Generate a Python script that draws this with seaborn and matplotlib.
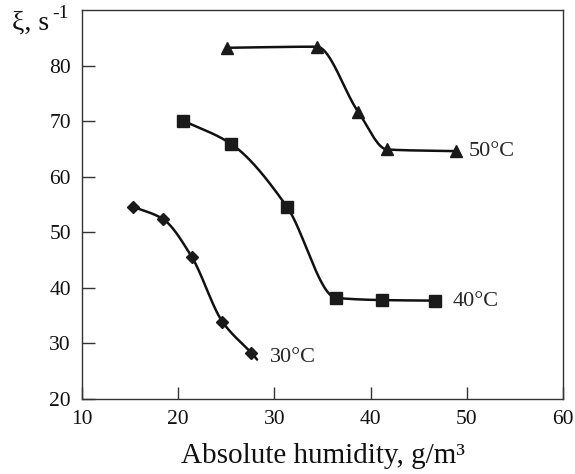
import numpy as np
import pandas as pd
import matplotlib
matplotlib.use("Agg")
import matplotlib.pyplot as plt
import seaborn as sns

# data
hum_30 = [15.3, 18.4, 21.4, 24.6, 27.6]
xi_30 = [54.6, 52.4, 45.6, 33.9, 28.3]
hum_40 = [20.5, 25.5, 31.3, 36.4, 41.2, 46.7]
xi_40 = [70.1, 65.9, 54.6, 38.2, 37.8, 37.7]
hum_50 = [25.1, 34.4, 38.7, 41.7, 48.9]
xi_50 = [83.2, 83.4, 71.7, 64.9, 64.6]
series_labels = ["30°C", "40°C", "50°C"]
curve_end = [28.2, 46.7, 48.9]
x_ticks = [10, 20, 30, 40, 50, 60]
y_ticks = [20, 30, 40, 50, 60, 70, 80]

sns.set_style("ticks")
plt.rcParams['font.family'] = ['Liberation Serif', 'DejaVu Serif']


def pchip(x, y, t):
    # monotone cubic (Fritsch-Carlson) through the measured points
    x = np.asarray(x, float)
    y = np.asarray(y, float)
    h = np.diff(x)
    d = np.diff(y) / h
    n = len(x)
    m = np.zeros(n)
    for k in range(1, n - 1):
        if d[k - 1] * d[k] > 0:
            w1 = 2 * h[k] + h[k - 1]
            w2 = h[k] + 2 * h[k - 1]
            m[k] = (w1 + w2) / (w1 / d[k - 1] + w2 / d[k])
    m[0] = d[0]
    m[-1] = d[-1]
    idx = np.clip(np.searchsorted(x, t) - 1, 0, n - 2)
    s = (t - x[idx]) / h[idx]
    h00 = 2 * s**3 - 3 * s**2 + 1
    h10 = s**3 - 2 * s**2 + s
    h01 = -2 * s**3 + 3 * s**2
    h11 = s**3 - s**2
    return (h00 * y[idx] + h10 * h[idx] * m[idx]
            + h01 * y[idx + 1] + h11 * h[idx] * m[idx + 1])


fig = plt.figure(figsize=(5.75, 4.74), dpi=100)
ax = fig.add_axes([82 / 575, 1 - 399 / 474, (563 - 82) / 575, (399 - 10) / 474])

groups = [(hum_30, xi_30, "D", 6), (hum_40, xi_40, "s", 8), (hum_50, xi_50, "^", 9)]
for (hx, hy, mk, ms), lab, xend in zip(groups, series_labels, curve_end):
    t = np.linspace(hx[0], xend, 400)
    curve = pd.DataFrame({"h": t, "xi": pchip(hx, hy, t)})
    sns.lineplot(data=curve, x="h", y="xi", ax=ax, color="#111111", lw=1.8)
    pts = pd.DataFrame({"h": hx, "xi": hy})
    ax.plot(pts["h"], pts["xi"], ls="none", marker=mk, ms=ms, color="#1a1a1a",
            mec="#1a1a1a")

ax.text(29.5, 27.4, series_labels[0], fontsize=16, va="center", ha="left")
ax.text(48.5, 37.5, series_labels[1], fontsize=16, va="center", ha="left")
ax.text(50.2, 64.5, series_labels[2], fontsize=16, va="center", ha="left")

ax.set_xlim(10, 60)
ax.set_ylim(20, 90)
ax.set_xticks(x_ticks)
ax.set_yticks(y_ticks)
ax.tick_params(direction="in", length=9, width=1, colors="#333333",
               labelcolor="#111111", labelsize=15.5, pad=8)
for sp in ax.spines.values():
    sp.set_visible(True)
    sp.set_color("#333333")
    sp.set_linewidth(1)

ax.set_xlabel("Absolute humidity, g/m³", fontsize=21, color="#111111", labelpad=10)
ax.set_ylabel("")

fig.text(12 / 575, 1 - 29 / 474, "ξ, s", fontsize=20, color="#111111")
fig.text(52 / 575, 1 - 18 / 474, "-1", fontsize=14, color="#111111")

fig.savefig("out.png", dpi=100)
